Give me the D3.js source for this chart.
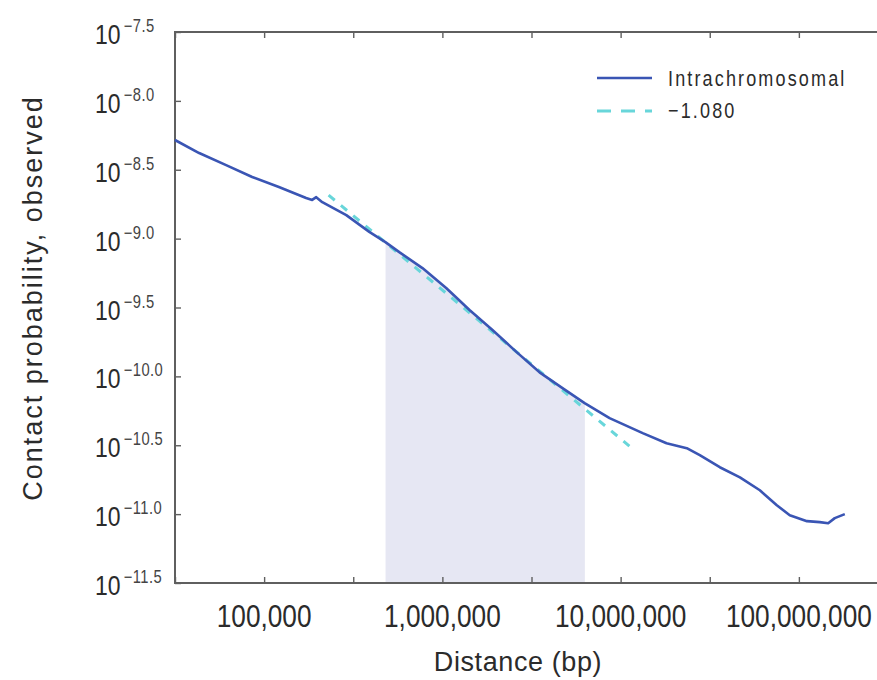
<!DOCTYPE html>
<html><head><meta charset="utf-8">
<script src="https://cdn.jsdelivr.net/npm/d3@7"></script>
<style>body{margin:0;background:#fff} svg{display:block}</style>
</head><body><svg id="chart" width="877" height="680"></svg>
<script>
// ---- data ----
const distance = [31600, 43200, 61200, 85700, 121000, 172000, 186000, 196000, 212000, 289000,
  389000, 479000, 573000, 773000, 1050000, 1420000, 1910000, 2610000, 3510000, 4720000,
  6280000, 8670000, 13300000, 18100000, 23500000, 27800000, 36000000, 46700000, 60400000,
  75200000, 88900000, 111000000, 131000000, 146000000, 159000000, 181000000];
const contactProb = [5.20e-9, 4.18e-9, 3.42e-9, 2.80e-9, 2.37e-9, 1.97e-9, 1.91e-9, 2.00e-9, 1.84e-9, 1.48e-9,
  1.12e-9, 9.44e-10, 7.98e-10, 6.11e-10, 4.38e-10, 3.03e-10, 2.17e-10, 1.50e-10, 1.07e-10, 8.22e-11,
  6.40e-11, 4.98e-11, 3.87e-11, 3.27e-11, 3.01e-11, 2.68e-11, 2.19e-11, 1.85e-11, 1.49e-11,
  1.16e-11, 9.82e-12, 8.89e-12, 8.75e-12, 8.59e-12, 9.35e-12, 1.00e-11];
const fitDistance = [230000, 11200000];
const fitProb = [2.07e-9, 3.12e-11];
const shadeRange = [480000, 6300000];
const xTickValues = [1e5, 1e6, 1e7, 1e8];
const xTickLabels = ["100,000", "1,000,000", "10,000,000", "100,000,000"];
const yTickExponents = [-7.5, -8.0, -8.5, -9.0, -9.5, -10.0, -10.5, -11.0, -11.5];
const yTickLabels = ["\u22127.5", "\u22128.0", "\u22128.5", "\u22129.0", "\u22129.5", "\u221210.0", "\u221210.5", "\u221211.0", "\u221211.5"];
const legendLabels = ["Intrachromosomal", "\u22121.080"];
const xTitle = "Distance (bp)";
const yTitle = "Contact probability, observed";

// ---- layout ----
const plot = {left: 175, right: 888, top: 32, bottom: 583};
const font = "'Liberation Sans',Arial,sans-serif";
const squeeze = 0.82; // condensed look of the tick and legend lettering
const textCol = "#2b2b2b", axisCol = "#5f5f5f";
const lineCol = "#3a55b4", fitCol = "#68d6da", shadeCol = "#e6e7f3";

const svg = d3.select("#chart");
const x = d3.scaleLog().domain([10 ** 4.5, 10 ** 8.5]).range([plot.left, plot.right]);
const y = d3.scaleLog().domain([10 ** -11.5, 10 ** -7.5]).range([plot.bottom, plot.top]);

const pts = distance.map((d, i) => [d, contactProb[i]]);

// shaded area under the curve
svg.append("clipPath").attr("id", "shadeClip").append("rect")
  .attr("x", x(shadeRange[0])).attr("y", plot.top)
  .attr("width", x(shadeRange[1]) - x(shadeRange[0])).attr("height", plot.bottom - plot.top);
svg.append("path").datum(pts)
  .attr("clip-path", "url(#shadeClip)")
  .attr("fill", shadeCol)
  .attr("d", d3.area().x(d => x(d[0])).y0(plot.bottom).y1(d => y(d[1])));

// ticks
const halfDecX = d3.range(4.5, 8.51, 0.5).map(e => 10 ** e);
const halfDecY = yTickExponents.map(e => 10 ** e);
const styleAxis = g => {
  g.select(".domain").remove();
  g.selectAll(".tick line").attr("stroke", axisCol).attr("stroke-width", 1.4);
  g.selectAll(".tick text").remove();
};
svg.append("g").attr("transform", `translate(0,${plot.bottom})`)
  .call(d3.axisBottom(x).tickValues(halfDecX).tickSize(-6).tickFormat("")).call(styleAxis);
svg.append("g").attr("transform", `translate(0,${plot.top})`)
  .call(d3.axisTop(x).tickValues(halfDecX).tickSize(-6).tickFormat("")).call(styleAxis);
svg.append("g").attr("transform", `translate(${plot.left},0)`)
  .call(d3.axisLeft(y).tickValues(halfDecY).tickSize(-6).tickFormat("")).call(styleAxis);

// frame
svg.append("rect").attr("x", plot.left).attr("y", plot.top)
  .attr("width", plot.right - plot.left).attr("height", plot.bottom - plot.top)
  .attr("fill", "none").attr("stroke", axisCol).attr("stroke-width", 2);

// fit line (dashed)
svg.append("path").datum(fitDistance.map((d, i) => [d, fitProb[i]]))
  .attr("fill", "none").attr("stroke", fitCol).attr("stroke-width", 3)
  .attr("stroke-dasharray", "8,8")
  .attr("d", d3.line().x(d => x(d[0])).y(d => y(d[1])));

// data curve
svg.append("path").datum(pts)
  .attr("fill", "none").attr("stroke", lineCol).attr("stroke-width", 2.6)
  .attr("stroke-linejoin", "round")
  .attr("d", d3.line().x(d => x(d[0])).y(d => y(d[1])));

// x tick labels
svg.append("g").selectAll("text").data(xTickValues).join("text")
  .attr("transform", d => `translate(${x(d)},627) scale(${squeeze},1)`)
  .attr("text-anchor", "middle")
  .attr("font-family", font).attr("font-size", 32)
  .attr("fill", textCol)
  .text((d, i) => xTickLabels[i]);

// y tick labels: 10^exp
const yl = svg.append("g").selectAll("text").data(yTickExponents).join("text")
  .attr("transform", d => `translate(95,${y(10 ** d) + 12}) scale(${squeeze},1)`)
  .attr("font-family", font).attr("fill", textCol);
yl.append("tspan").attr("font-size", 28).text("10");
yl.append("tspan").attr("font-size", 18).attr("dx", 4).attr("dy", -12)
  .attr("letter-spacing", 0.5).attr("fill", "#444")
  .text((d, i) => yTickLabels[i]);

// axis titles
svg.append("text").attr("x", 518).attr("y", 671).attr("text-anchor", "middle")
  .attr("font-family", font).attr("font-size", 27).attr("letter-spacing", 0.6)
  .attr("fill", textCol).text(xTitle);
svg.append("text").attr("transform", "translate(42,298) rotate(-90)").attr("text-anchor", "middle")
  .attr("font-family", font).attr("font-size", 27).attr("letter-spacing", 2)
  .attr("fill", textCol).text(yTitle);

// legend
const lg = svg.append("g");
lg.append("line").attr("x1", 597).attr("x2", 652).attr("y1", 78).attr("y2", 78)
  .attr("stroke", lineCol).attr("stroke-width", 2.5);
lg.append("line").attr("x1", 597).attr("x2", 652).attr("y1", 111).attr("y2", 111)
  .attr("stroke", fitCol).attr("stroke-width", 3).attr("stroke-dasharray", "14,10");
lg.selectAll("text").data(legendLabels).join("text")
  .attr("transform", (d, i) => `translate(668,${86 + i * 32}) scale(${squeeze},1)`)
  .attr("font-family", font).attr("font-size", 22).attr("letter-spacing", 2.6)
  .attr("fill", textCol).text(d => d);
</script></body></html>
